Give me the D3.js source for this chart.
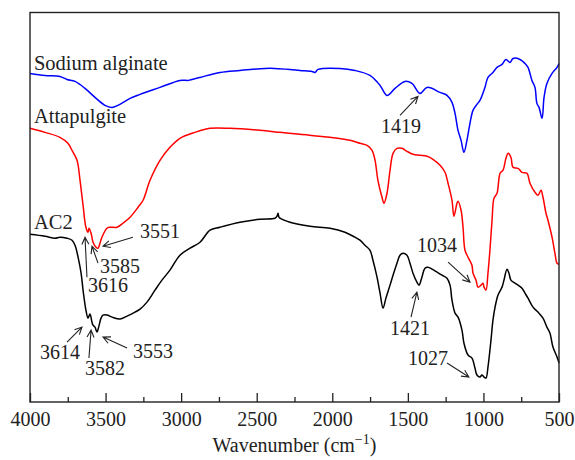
<!DOCTYPE html>
<html>
<head>
<meta charset="utf-8">
<script src="https://cdn.jsdelivr.net/npm/d3@7"></script>
<style>
  body { margin: 0; background: #fff; }
  text { font-family: "Liberation Serif", "DejaVu Serif", serif; fill: #222; }
</style>
</head>
<body>
<svg id="chart" width="575" height="460"></svg>
<script>
// spectra: [wavenumber (cm-1), transmittance (a.u., curves offset)]
const sodiumAlginate = [
  [4000, 32.9], [3901, 32.7], [3802, 32.6], [3755, 32.3], [3702, 32.1], [3636, 31.4],
  [3570, 30.5], [3504, 29.7], [3457, 29.5], [3405, 29.8], [3338, 30.4], [3272, 30.8],
  [3140, 31.5], [3008, 32.2], [2955, 32.2], [2941, 32.25], [2875, 32.5], [2743, 33.0],
  [2611, 33.2], [2445, 33.4], [2379, 33.4], [2280, 33.3], [2214, 33.2], [2134, 33.1],
  [2114, 33.0], [2094, 33.3], [1949, 33.4], [1850, 33.2], [1751, 32.7], [1684, 31.7],
  [1638, 30.7], [1585, 31.4], [1519, 32.1], [1473, 31.9], [1420, 30.9], [1373, 31.5],
  [1287, 31.0], [1241, 30.7], [1208, 30.0], [1188, 28.9], [1168, 27.2], [1148, 26.2],
  [1129, 25.0], [1109, 26.2], [1089, 27.9], [1069, 29.2], [1043, 29.8], [1023, 30.2],
  [990, 31.5], [970, 32.5], [937, 33.0], [910, 33.5], [877, 33.8], [851, 34.3],
  [824, 34.0], [804, 34.4], [758, 34.3], [725, 33.9], [705, 33.5], [679, 32.2],
  [659, 31.5], [646, 29.9], [632, 29.5], [612, 28.4], [599, 30.5], [580, 31.9],
  [546, 32.9], [513, 33.5], [500, 33.9]
];

const attapulgite = [
  [4000, 27.4], [3901, 27.0], [3802, 26.5], [3749, 25.9], [3722, 25.2], [3689, 24.2],
  [3669, 22.2], [3649, 19.7], [3630, 17.5], [3616, 17.0], [3610, 17.4], [3596, 16.9],
  [3583, 16.0], [3563, 15.5], [3550, 15.4], [3537, 15.9], [3524, 16.5], [3491, 17.4],
  [3471, 17.5], [3424, 17.5], [3385, 17.9], [3338, 18.5], [3285, 19.5], [3252, 20.2],
  [3206, 22.2], [3140, 24.2], [3074, 25.5], [3008, 26.4], [2908, 27.0], [2809, 27.4],
  [2677, 27.4], [2478, 27.2], [2346, 27.0], [2214, 26.8], [2015, 26.5], [1883, 26.2],
  [1817, 25.9], [1770, 25.7], [1737, 25.2], [1717, 24.2], [1698, 22.2], [1671, 20.5],
  [1658, 19.9], [1638, 20.9], [1618, 23.2], [1598, 24.9], [1572, 25.4], [1539, 25.4],
  [1506, 25.1], [1466, 24.8], [1420, 24.7], [1373, 24.6], [1334, 24.3], [1287, 23.7],
  [1254, 23.0], [1234, 21.9], [1208, 20.2], [1195, 18.6], [1175, 19.9], [1168, 20.1],
  [1148, 19.2], [1135, 17.5], [1122, 15.2], [1102, 14.5], [1076, 13.7], [1069, 12.9],
  [1049, 12.2], [1036, 11.5], [1016, 11.7], [1003, 11.9], [996, 11.5], [983, 11.2],
  [970, 12.9], [957, 15.2], [943, 18.2], [930, 20.4], [910, 20.9], [890, 22.9],
  [871, 23.2], [851, 24.4], [837, 24.9], [818, 24.5], [804, 23.5], [771, 23.4],
  [745, 23.0], [712, 22.9], [692, 21.9], [659, 21.0], [639, 20.7], [619, 21.2],
  [606, 20.5], [586, 18.9], [573, 18.2], [546, 16.5], [527, 14.9], [513, 13.9], [500, 13.8]
];

const ac2 = [
  [4000, 16.8], [3901, 16.6], [3835, 16.4], [3802, 16.5], [3755, 16.4], [3722, 16.2],
  [3702, 15.7], [3682, 14.5], [3662, 12.9], [3649, 11.2], [3630, 9.2], [3616, 8.4],
  [3603, 8.8], [3590, 8.0], [3583, 7.7], [3570, 7.5], [3557, 7.0], [3544, 7.6],
  [3530, 8.4], [3517, 8.7], [3491, 8.7], [3457, 8.5], [3405, 8.3], [3358, 8.6],
  [3305, 9.0], [3272, 9.3], [3226, 10.0], [3173, 11.2], [3127, 12.2], [3074, 13.2],
  [3008, 14.7], [2941, 15.4], [2875, 16.0], [2809, 17.2], [2743, 17.5], [2611, 18.0],
  [2478, 18.3], [2379, 18.4], [2366, 18.6], [2359, 18.9], [2353, 18.5], [2346, 18.4],
  [2280, 18.0], [2147, 17.6], [2015, 17.4], [1916, 17.0], [1850, 16.5], [1817, 16.2],
  [1784, 15.7], [1751, 15.2], [1731, 14.2], [1704, 12.5], [1684, 10.9], [1664, 9.4],
  [1645, 10.4], [1618, 11.7], [1598, 12.7], [1572, 13.9], [1552, 14.7], [1532, 14.9],
  [1506, 14.7], [1486, 13.9], [1466, 12.9], [1440, 12.0], [1426, 11.7], [1407, 12.5],
  [1387, 13.4], [1367, 13.5], [1340, 13.3], [1307, 13.0], [1274, 12.7], [1241, 12.4],
  [1221, 11.7], [1208, 10.2], [1188, 8.9], [1168, 8.5], [1142, 7.2], [1129, 5.9],
  [1102, 4.7], [1076, 4.4], [1056, 3.4], [1043, 2.7], [1023, 2.5], [1010, 2.7],
  [996, 2.5], [983, 2.4], [970, 3.5], [950, 6.2], [937, 8.2], [923, 9.5],
  [904, 10.7], [877, 11.5], [864, 12.2], [844, 13.3], [831, 12.9], [818, 12.2],
  [791, 11.9], [771, 11.7], [745, 11.4], [725, 10.9], [705, 10.4], [672, 9.5],
  [639, 9.0], [606, 8.4], [580, 7.5], [560, 6.9], [540, 5.5], [513, 4.5], [500, 3.9]
];

const seriesNames = ["Sodium alginate", "Attapulgite", "AC2"];
const seriesColors = ["#0000ff", "#ff0000", "#000000"];
const seriesLabelPos = [[3974, 33.2], [3974, 27.9], [3974, 17.3]];

const majorTicks = [4000, 3500, 3000, 2500, 2000, 1500, 1000, 500];
const minorTicks = [3750, 3250, 2750, 2250, 1750, 1250, 750];

// peak labels: text, text anchor point, arrow start, arrow end (all in wavenumber / a.u.)
const peakLabels = [
  { text: "1419", at: [1545, 26.9], anchor: "middle", from: [1552, 28.7], to: [1433, 30.6] },
  { text: "3551", at: [3272, 16.4], anchor: "start", from: [3319, 16.5], to: [3517, 15.6] },
  { text: "3585", at: [3537, 12.9], anchor: "start", from: [3550, 13.9], to: [3590, 15.6] },
  { text: "3616", at: [3616, 11.0], anchor: "start", from: [3623, 12.5], to: [3636, 16.5] },
  { text: "3614", at: [3934, 4.3], anchor: "start", from: [3755, 6.0], to: [3656, 7.5] },
  { text: "3582", at: [3636, 2.7], anchor: "start", from: [3610, 4.4], to: [3596, 7.2] },
  { text: "3553", at: [3319, 4.4], anchor: "start", from: [3358, 5.4], to: [3517, 6.5] },
  { text: "1034", at: [1440, 15.0], anchor: "start", from: [1234, 14.0], to: [1089, 12.0] },
  { text: "1421", at: [1618, 6.7], anchor: "start", from: [1479, 8.5], to: [1440, 11.0] },
  { text: "1027", at: [1499, 3.7], anchor: "start", from: [1241, 3.9], to: [1096, 2.5] }
];

const svg = d3.select("#chart");
const plotLeft = 30, plotRight = 559, plotTop = 12.5, plotBottom = 402;

const x = d3.scaleLinear().domain([4000, 500]).range([plotLeft, plotRight]);
const y = d3.scaleLinear().domain([0, 39]).range([plotBottom, plotTop]);

const line = d3.line()
    .curve(d3.curveCatmullRom.alpha(0.5))
    .x(d => x(d[0]))
    .y(d => y(d[1]));

// curves
[sodiumAlginate, attapulgite, ac2].forEach((data, i) => {
    svg.append("path")
        .datum(data)
        .attr("fill", "none")
        .attr("stroke", seriesColors[i])
        .attr("stroke-width", 1.5)
        .attr("stroke-linejoin", "round")
        .attr("d", line);
});

svg.selectAll(".series-label")
    .data(seriesNames)
    .enter()
    .append("text")
    .attr("class", "series-label")
    .attr("x", (d, i) => x(seriesLabelPos[i][0]))
    .attr("y", (d, i) => y(seriesLabelPos[i][1]))
    .style("font-size", "20.5px")
    .text(d => d);

// peak arrows
const arrowG = svg.append("g");
peakLabels.forEach(p => {
    const x1 = x(p.from[0]), y1 = y(p.from[1]);
    const x2 = x(p.to[0]), y2 = y(p.to[1]);
    const ang = Math.atan2(y2 - y1, x2 - x1);
    const headLen = 8, spread = 0.45;
    const hx1 = x2 - headLen * Math.cos(ang - spread), hy1 = y2 - headLen * Math.sin(ang - spread);
    const hx2 = x2 - headLen * Math.cos(ang + spread), hy2 = y2 - headLen * Math.sin(ang + spread);
    arrowG.append("path")
        .attr("d", `M${x1},${y1}L${x2},${y2}M${hx1},${hy1}L${x2},${y2}L${hx2},${hy2}`)
        .attr("fill", "none")
        .attr("stroke", "#222")
        .attr("stroke-width", 1.1);
    arrowG.append("text")
        .attr("x", x(p.at[0]))
        .attr("y", y(p.at[1]))
        .attr("text-anchor", p.anchor)
        .style("font-size", "20px")
        .text(p.text);
});

// frame
svg.append("rect")
    .attr("x", plotLeft).attr("y", plotTop)
    .attr("width", plotRight - plotLeft).attr("height", plotBottom - plotTop)
    .attr("fill", "none")
    .attr("stroke", "#222")
    .attr("stroke-width", 1.4);

// axes, ticks pointing inwards
const xAxis = svg.append("g")
    .attr("transform", `translate(0,${plotBottom})`)
    .call(d3.axisBottom(x).tickValues(majorTicks).tickSize(-9).tickPadding(10).tickFormat(d3.format("d")));
xAxis.select(".domain").remove();
xAxis.selectAll("line").attr("stroke", "#222").attr("stroke-width", 1.3);
xAxis.selectAll("text")
    .style("font-size", "20px")
    .attr("font-family", null);

const xMinor = svg.append("g")
    .attr("transform", `translate(0,${plotBottom})`)
    .call(d3.axisBottom(x).tickValues(minorTicks).tickSize(-5).tickFormat(""));
xMinor.select(".domain").remove();
xMinor.selectAll("line").attr("stroke", "#222").attr("stroke-width", 1.3);

// axis title
const title = svg.append("text")
    .attr("x", (plotLeft + plotRight) / 2)
    .attr("y", 452)
    .attr("text-anchor", "middle")
    .style("font-size", "20px");
title.append("tspan").text("Wavenumber (cm");
title.append("tspan").attr("dy", -8).style("font-size", "14px").text("\u22121");
title.append("tspan").attr("dy", 8).text(")");
</script>
</body>
</html>
